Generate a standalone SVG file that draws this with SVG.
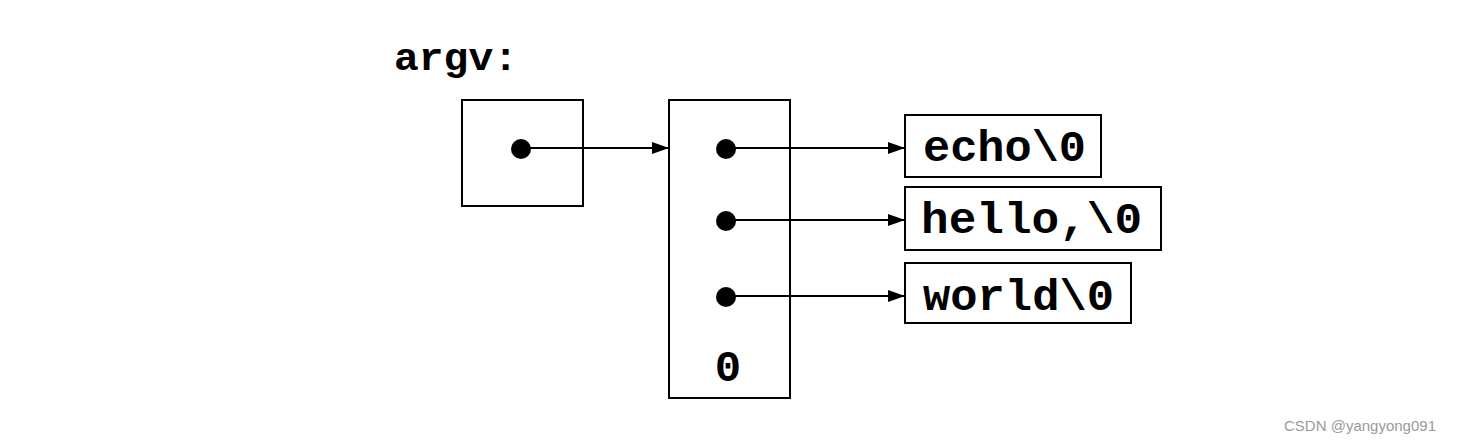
<svg xmlns="http://www.w3.org/2000/svg" width="1460" height="444" viewBox="0 0 1460 444">
<style>
.box{fill:#fff;stroke:#000;stroke-width:2}
.dot{fill:#000}
.conn{stroke:#000;stroke-width:1.8;fill:none}
.tt{font-family:"Liberation Mono","DejaVu Sans Mono",monospace;font-weight:bold;font-size:44px;fill:#000}
.wm{font-family:"Liberation Sans",Arial,sans-serif;font-size:15px;fill:#9a9a9a}
</style>
<defs>
<marker id="ah" markerUnits="userSpaceOnUse" markerWidth="18" markerHeight="14" refX="17" refY="7" orient="auto">
<path d="M0,1 L17,7 L0,13 Z" fill="#000"/>
</marker>
</defs>
<rect width="1460" height="444" fill="#fff"/>
<text class="tt" x="394" y="70" textLength="124" lengthAdjust="spacingAndGlyphs" style="font-size:38px">argv:</text>
<g id="argv">
<rect class="box" x="462" y="100" width="121" height="106"/>
<circle class="dot" cx="521" cy="149" r="10"/>
</g>
<g id="array">
<rect class="box" x="669" y="100" width="121" height="298"/>
<circle class="dot" cx="726" cy="149" r="10"/>
<circle class="dot" cx="726" cy="221" r="10"/>
<circle class="dot" cx="726" cy="297" r="10"/>
<text class="tt" x="728" y="381" text-anchor="middle">0</text>
</g>
<g id="echo">
<rect class="box" x="905" y="115" width="196" height="62"/>
<text class="tt" x="923" y="161" textLength="163" lengthAdjust="spacingAndGlyphs">echo\0</text>
</g>
<g id="hello">
<rect class="box" x="905" y="187" width="256" height="63"/>
<text class="tt" x="921" y="233" textLength="221" lengthAdjust="spacingAndGlyphs">hello,\0</text>
</g>
<g id="world">
<rect class="box" x="905" y="263" width="226" height="60"/>
<text class="tt" x="923" y="310" textLength="191" lengthAdjust="spacingAndGlyphs">world\0</text>
</g>
<g id="connectors">
<line class="conn" x1="521" y1="148" x2="669" y2="148" marker-end="url(#ah)"/>
<line class="conn" x1="726" y1="148" x2="905" y2="148" marker-end="url(#ah)"/>
<line class="conn" x1="726" y1="220" x2="905" y2="220" marker-end="url(#ah)"/>
<line class="conn" x1="726" y1="296" x2="905" y2="296" marker-end="url(#ah)"/>
</g>
<text class="wm" x="1284" y="431">CSDN @yangyong091</text>
</svg>
